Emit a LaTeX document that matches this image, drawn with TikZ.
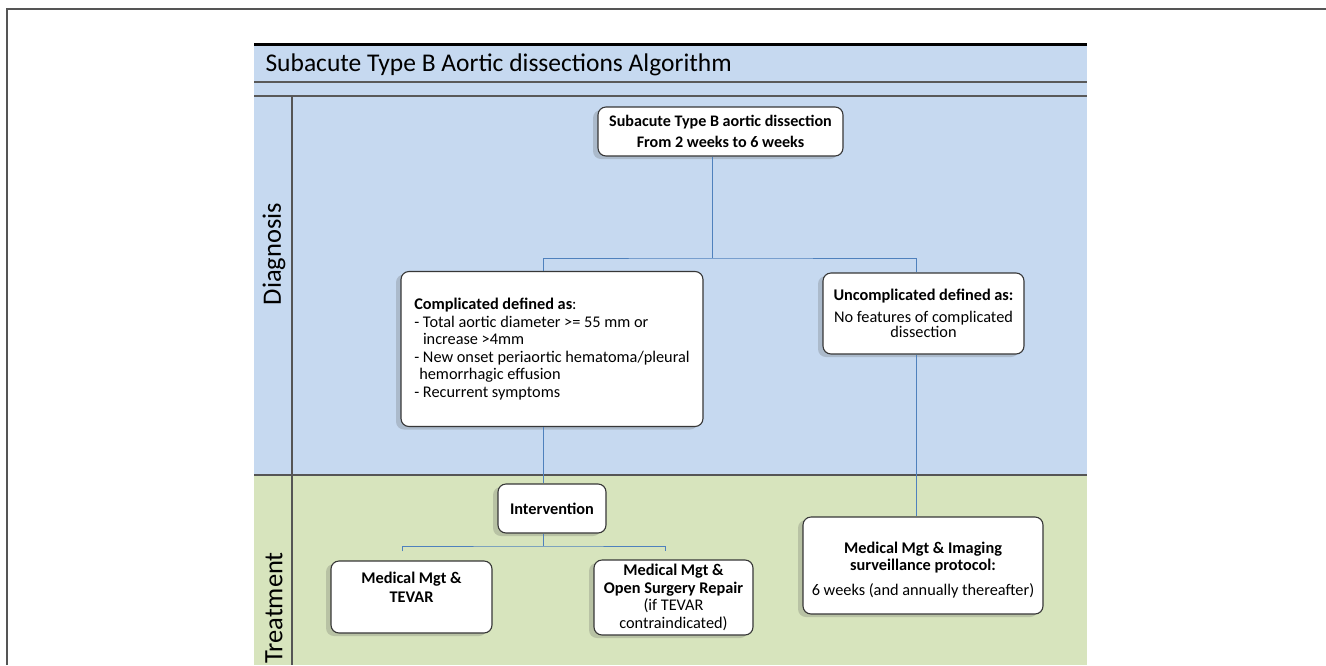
\documentclass[tikz,border=0pt]{standalone}
\usepackage{fontspec}
\setmainfont{Carlito}
\usetikzlibrary{shadows}
\definecolor{laneblue}{RGB}{198,217,240}
\definecolor{lanegreen}{RGB}{215,228,189}
\definecolor{connblue}{RGB}{79,129,189}
\definecolor{framegray}{RGB}{85,85,85}
\definecolor{boxborder}{RGB}{55,55,55}
\tikzset{
  box/.style={draw=boxborder, line width=1.1pt, fill=white, rounded corners=8pt,
    inner sep=4pt, align=center, font=\fontsize{16.3}{17.5}\selectfont,
    drop shadow={shadow xshift=-5pt, shadow yshift=-3pt, opacity=0.22, fill=black!70}},
  conn/.style={draw=connblue, line width=0.9pt},
  lane/.style={font=\fontsize{26.5}{30}\selectfont, rotate=90},
  sep/.style={draw=framegray, line width=1.6pt}
}
\begin{document}
\begin{tikzpicture}[x=1pt, y=-1pt]
\useasboundingbox (0,0) rectangle (1326,665);
% outer frame
\draw[draw=framegray, line width=1.5pt] (7,665) -- (7,9) -- (1326,9);
% lanes
\fill[laneblue] (254,44) rectangle (1087,475);
\fill[lanegreen] (254,475) rectangle (1087,665);
\draw[black, line width=3pt] (254,44) -- (1087,44);
\draw[sep, draw=gray!70!black] (254,82) -- (1087,82);
\draw[sep, draw=gray!70!black] (254,96) -- (1087,96);
\draw[sep] (292,96) -- (292,665);
\draw[sep] (254,475) -- (1087,475);
\node[anchor=west, font=\fontsize{25.5}{29}\selectfont] (title) at (262,65) {Subacute Type B Aortic dissections Algorithm};
\node[lane] (diag) at (274,254) {Diagnosis};
\node[lane] (treat) at (274,608) {Treatment};
% nodes
\node[box, minimum width=245pt, minimum height=49pt, font=\bfseries\fontsize{16.1}{17.5}\selectfont] (top) at (720.5,131.5)
  {Subacute Type B aortic dissection\\[4pt]From 2 weeks to 6 weeks};
\node[box, minimum width=302pt, minimum height=155pt, align=left] (cmp) at (552,349)
  {\textbf{Complicated defined as}:\\
   - Total aortic diameter >= 55 mm or\\
   \hphantom{- }increase >4mm\\
   - New onset periaortic hematoma/pleural\\
   \hphantom{-}hemorrhagic effusion\\
   - Recurrent symptoms};
\node[box, minimum width=201pt, minimum height=81pt, font=\fontsize{16.3}{15.5}\selectfont] (unc) at (923.5,313.5)
  {\textbf{Uncomplicated defined as:}\\[6pt]No features of complicated\\dissection};
\node[box, minimum width=108pt, minimum height=49pt] (int) at (552,508.5) {\textbf{Intervention}};
\node[box, minimum width=240pt, minimum height=97pt] (img) at (923,565.5)
  {\vphantom{X}\\[-8pt]\textbf{Medical Mgt \& Imaging}\\\textbf{surveillance protocol:}\\[7pt]6 weeks (and annually thereafter)};
\node[box, minimum width=161pt, minimum height=72pt] (tevar) at (411.5,597)
  {\textbf{Medical Mgt \&}\\[1pt]\textbf{TEVAR}\\[2pt]~};
\node[box, minimum width=159pt, minimum height=75pt] (open) at (673.5,597.5)
  {\textbf{Medical Mgt \&}\\\textbf{Open Surgery Repair}\\(if TEVAR\\contraindicated)};
% connectors
\coordinate (j1) at (712,258);
\coordinate (j2) at (543,546);
\draw[conn] ([xshift=-8.5pt]top.south) -- (j1);
\draw[conn] ([xshift=-9pt]cmp.north) |- (j1) -| ([xshift=-7.5pt]unc.north);
\draw[conn] ([xshift=-9pt]cmp.south) -- ([xshift=-9pt]int.north);
\draw[conn] ([xshift=-7.5pt]unc.south) -- ([xshift=-7pt]img.north);
\draw[conn] ([xshift=-9pt]int.south) -- (j2);
\draw[conn] ([xshift=-9.5pt,yshift=9pt]tevar.north) |- (j2) -| ([xshift=-8.5pt,yshift=8pt]open.north);
\end{tikzpicture}
\end{document}
